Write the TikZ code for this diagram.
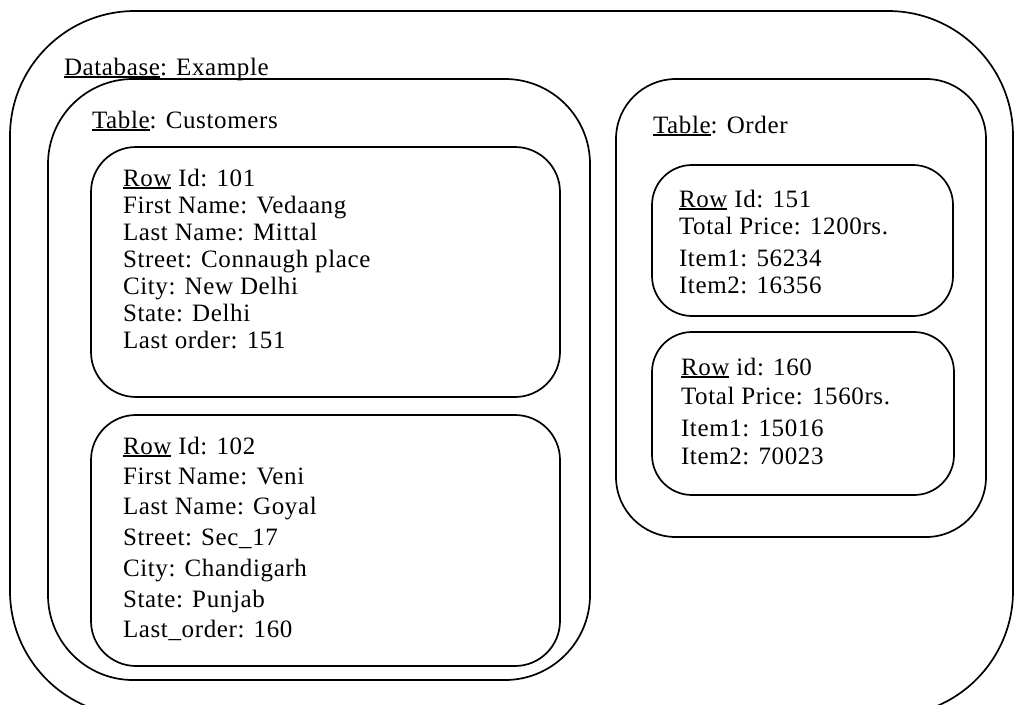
\documentclass[tikz,border=0pt]{standalone}
\usepackage{fontspec}
\setmainfont{Liberation Serif}[LetterSpace=2.5]
% underline with a rule of fixed thickness just below the baseline
\newcommand{\ulword}[1]{\setbox0\hbox{#1}\rlap{\rule[-2.6pt]{\wd0}{1.5pt}}\box0\relax}
\begin{document}
\begin{tikzpicture}[x=1pt,y=-1pt,
  box/.style={draw,line width=1.7pt,rounded corners=#1,anchor=north west,
              inner sep=0pt,outer sep=0pt},
  txt/.style={anchor=base west,inner sep=0pt,outer sep=0pt,
              font=\fontsize{25}{27}\selectfont}]
\path[use as bounding box,clip] (0,0) rectangle (1014,704);

% nested containers: database, tables, rows
\node[box=125pt,minimum width=1003pt,minimum height=705pt] (db) at (10,11) {};
\node[box=85pt,minimum width=542pt,minimum height=601pt] (customers) at (48,79) {};
\node[box=45pt,minimum width=469pt,minimum height=250pt] (row101) at (91,147) {};
\node[box=45pt,minimum width=469pt,minimum height=251pt] (row102) at (91,415) {};
\node[box=60pt,minimum width=370pt,minimum height=458pt] (order) at (616,79) {};
\node[box=40pt,minimum width=301pt,minimum height=151pt] (row151) at (652,165) {};
\node[box=40pt,minimum width=302pt,minimum height=163pt] (row160) at (652,332) {};

% container titles
\node[txt] (dbtitle) at (64,75) {\ulword{Database}: Example};
\node[txt] (custtitle) at (92,128) {\ulword{Table}: Customers};
\node[txt] (ordertitle) at (653,133) {\ulword{Table}: Order};

% customer row 101
\node[txt] (a1) at (123,186) {\ulword{Row} Id: 101};
\node[txt] (a2) at (123,213) {First Name: Vedaang};
\node[txt] (a3) at (123,240) {Last Name: Mittal};
\node[txt] (a4) at (123,267) {Street: Connaugh place};
\node[txt] (a5) at (123,294) {City: New Delhi};
\node[txt] (a6) at (123,321) {State: Delhi};
\node[txt] (a7) at (123,348) {Last order: 151};

% customer row 102
\node[txt] (b1) at (123,454) {\ulword{Row} Id: 102};
\node[txt] (b2) at (123,484) {First Name: Veni};
\node[txt] (b3) at (123,514) {Last Name: Goyal};
\node[txt] (b4) at (123,545) {Street: Sec\_17};
\node[txt] (b5) at (123,576) {City: Chandigarh};
\node[txt] (b6) at (123,607) {State: Punjab};
\node[txt] (b7) at (123,637) {Last\_order: 160};

% order row 151
\node[txt] (c1) at (679,207) {\ulword{Row} Id: 151};
\node[txt] (c2) at (679,234) {Total Price: 1200rs.};
\node[txt] (c3) at (679,266) {Item1: 56234};
\node[txt] (c4) at (679,293) {Item2: 16356};

% order row 160
\node[txt] (d1) at (681,375) {\ulword{Row} id: 160};
\node[txt] (d2) at (681,404) {Total Price: 1560rs.};
\node[txt] (d3) at (681,436) {Item1: 15016};
\node[txt] (d4) at (681,464) {Item2: 70023};
\end{tikzpicture}
\end{document}
